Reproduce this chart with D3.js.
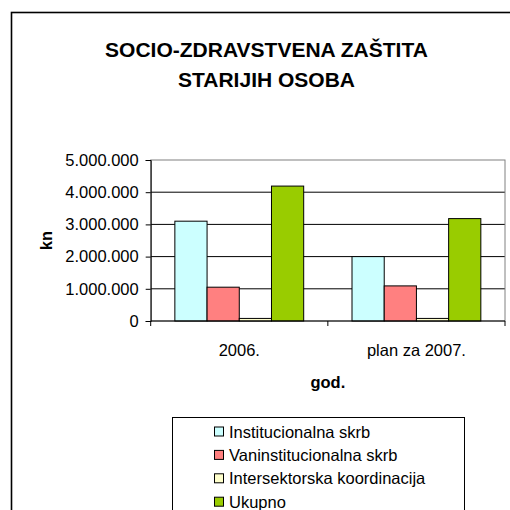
<!DOCTYPE html>
<html><head><meta charset="utf-8">
<script src="https://cdn.jsdelivr.net/npm/d3@7"></script>
<style>body{margin:0;background:#fff}svg{display:block}text{font-family:Arial,"Liberation Sans",sans-serif}</style>
</head><body><svg id="c" width="510" height="510"></svg>
<script>
const categories = ["2006.", "plan za 2007."];
const seriesNames = ["Institucionalna skrb", "Vaninstitucionalna skrb", "Intersektorska koordinacija", "Ukupno"];
const institucionalna = [3100000, 2000000];
const vaninstitucionalna = [1050000, 1090000];
const intersektorska = [80000, 80000];
const ukupno = [4190000, 3180000];
const seriesColors = ["#CCFFFF", "#FF8080", "#FFFFCC", "#99CC00"];
const yTicks = [0, 1000000, 2000000, 3000000, 4000000, 5000000];
const titleLines = ["SOCIO-ZDRAVSTVENA ZAŠTITA", "STARIJIH OSOBA"];

const seriesValues = [institucionalna, vaninstitucionalna, intersektorska, ukupno];
const svg = d3.select("#c");
const L = 150.7, R = 505, T = 160, B = 321;

// outer chart border
svg.append("rect").attr("x", 11.5).attr("y", 12.5).attr("width", 520).attr("height", 520)
  .attr("fill", "#fff").attr("stroke", "#000").attr("stroke-width", 1.6);

// title
svg.selectAll(".title").data(titleLines).join("text")
  .attr("x", 266.5).attr("y", (d, i) => 57 + i * 29.7)
  .attr("text-anchor", "middle").attr("font-size", 21).attr("font-weight", "bold")
  .text(d => d);

const x0 = d3.scaleBand().domain(categories).range([L, R]).paddingInner(0).paddingOuter(0);
const x1 = d3.scaleBand().domain(seriesNames).range([0, x0.bandwidth()]).paddingInner(0).paddingOuter(0.75);
const y = d3.scaleLinear().domain([0, 5000000]).range([B, T]);
const loc = d3.formatLocale({decimal: ",", thousands: ".", grouping: [3], currency: ["", ""]});
const fmt = loc.format(",.0f");

// gridlines
svg.append("g").selectAll("line").data(yTicks.filter(v => v > 0 && v < 5000000)).join("line")
  .attr("x1", L).attr("x2", R).attr("y1", d => y(d)).attr("y2", d => y(d))
  .attr("stroke", "#000").attr("stroke-width", 1);
// plot area border (gray)
svg.append("rect").attr("x", L).attr("y", T).attr("width", R - L).attr("height", B - T)
  .attr("fill", "none").attr("stroke", "#808080").attr("stroke-width", 1);

// bars
const data = [];
categories.forEach((c, ci) => seriesNames.forEach((s, si) => data.push({c, s, si, v: seriesValues[si][ci]})));
svg.append("g").selectAll("rect").data(data).join("rect")
  .attr("x", d => x0(d.c) + x1(d.s)).attr("width", x1.bandwidth())
  .attr("y", d => y(d.v)).attr("height", d => y(0) - y(d.v))
  .attr("fill", d => seriesColors[d.si]).attr("stroke", "#000").attr("stroke-width", 1);

// y axis
const yAxis = d3.axisLeft(y).tickValues(yTicks).tickFormat(fmt).tickSize(5).tickPadding(7);
const gy = svg.append("g").attr("transform", `translate(${L},0)`).call(yAxis);
gy.select(".domain").attr("stroke", "#000");
gy.selectAll("line").attr("stroke", "#000");
gy.selectAll("text").attr("font-size", 16.5).attr("fill", "#000").attr("font-family", "Arial, 'Liberation Sans', sans-serif");

// x axis
const gx = svg.append("g").attr("transform", `translate(0,${B})`);
gx.append("line").attr("x1", L).attr("x2", R).attr("stroke", "#000");
gx.selectAll(".tk").data([L, x0(categories[1]), R]).join("line")
  .attr("x1", d => d).attr("x2", d => d).attr("y1", 0).attr("y2", 5).attr("stroke", "#000");
gx.selectAll(".cl").data(categories).join("text")
  .attr("x", d => x0(d) + x0.bandwidth() / 2).attr("y", 35)
  .attr("text-anchor", "middle").attr("font-size", 16.5).text(d => d);

// axis titles
svg.append("text").attr("x", (L + R) / 2).attr("y", 388).attr("text-anchor", "middle")
  .attr("font-size", 16.5).attr("font-weight", "bold").text("god.");
svg.append("text").attr("transform", `translate(52,${(T + B) / 2}) rotate(-90)`)
  .attr("text-anchor", "middle").attr("font-size", 16.5).attr("font-weight", "bold").text("kn");

// legend
svg.append("rect").attr("x", 172.5).attr("y", 417.5).attr("width", 292).attr("height", 120)
  .attr("fill", "#fff").attr("stroke", "#000").attr("stroke-width", 1);
const lg = svg.append("g").selectAll("g").data(seriesNames).join("g")
  .attr("transform", (d, i) => `translate(214,${431.5 + i * 23.4})`);
lg.append("rect").attr("x", 0.5).attr("y", -4.5).attr("width", 9).attr("height", 9)
  .attr("fill", (d, i) => seriesColors[i]).attr("stroke", "#000");
lg.append("text").attr("x", 15).attr("y", 6).attr("font-size", 16.5).text(d => d);
</script></body></html>
